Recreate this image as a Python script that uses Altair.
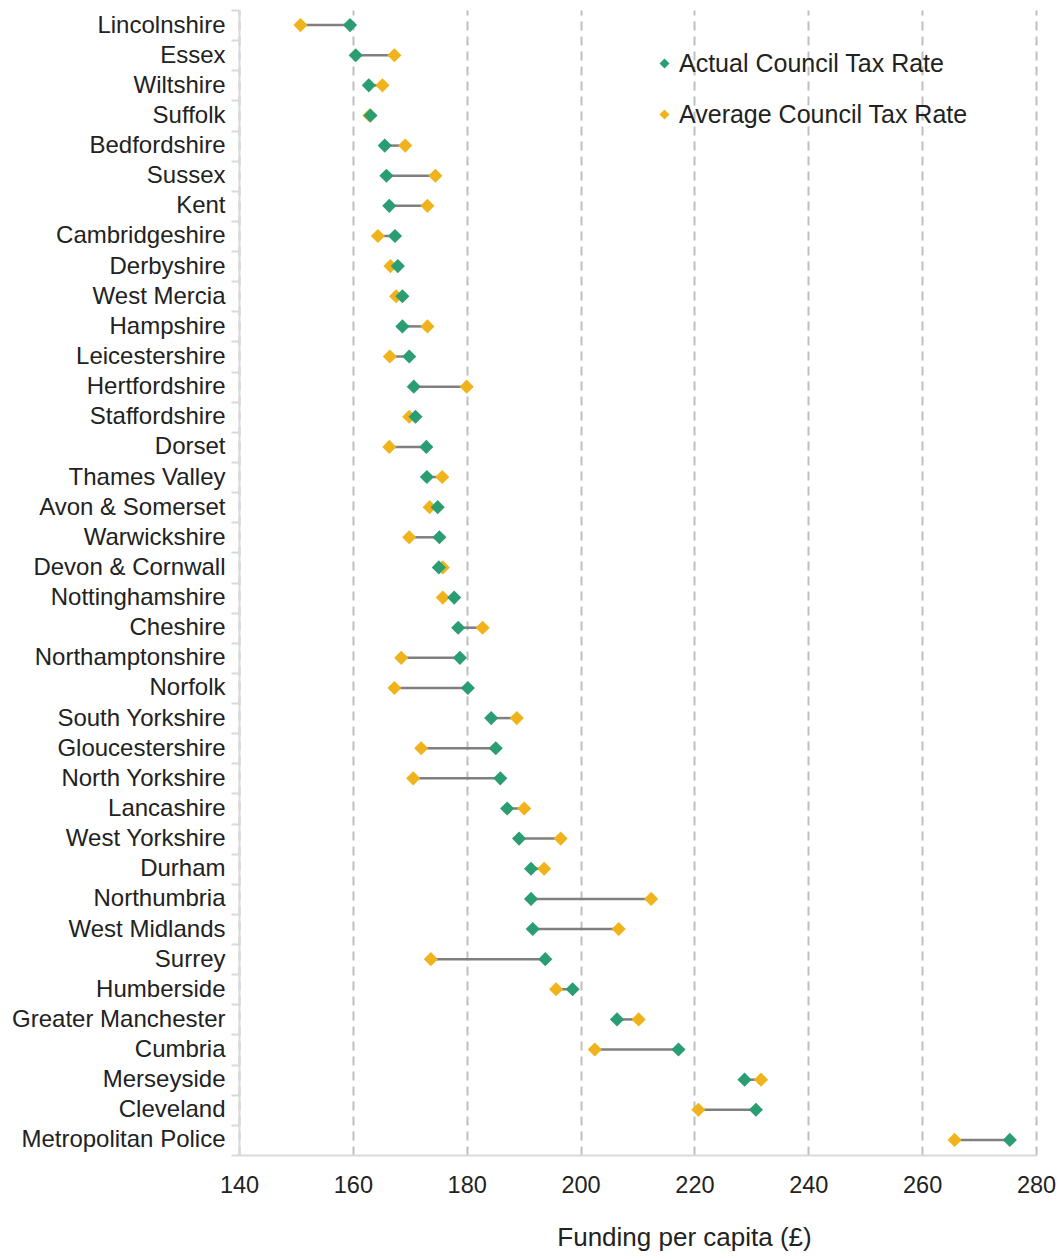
import altair as alt
import pandas as pd

forces = [
    "Lincolnshire", "Essex", "Wiltshire", "Suffolk", "Bedfordshire", "Sussex", "Kent",
    "Cambridgeshire", "Derbyshire", "West Mercia", "Hampshire", "Leicestershire",
    "Hertfordshire", "Staffordshire", "Dorset", "Thames Valley", "Avon & Somerset",
    "Warwickshire", "Devon & Cornwall", "Nottinghamshire", "Cheshire", "Northamptonshire",
    "Norfolk", "South Yorkshire", "Gloucestershire", "North Yorkshire", "Lancashire",
    "West Yorkshire", "Durham", "Northumbria", "West Midlands", "Surrey", "Humberside",
    "Greater Manchester", "Cumbria", "Merseyside", "Cleveland", "Metropolitan Police",
]
actual = [
    159.5, 160.5, 162.8, 163.1, 165.6, 165.9, 166.4, 167.4, 167.9, 168.7, 168.7, 169.9,
    170.7, 171.0, 172.9, 173.0, 174.9, 175.2, 175.1, 177.8, 178.5, 178.8, 180.2, 184.3,
    185.1, 185.9, 187.1, 189.2, 191.3, 191.3, 191.6, 193.8, 198.6, 206.4, 217.2, 228.8,
    230.8, 275.4,
]
average = [
    150.8, 167.3, 165.2, 162.9, 169.2, 174.5, 173.1, 164.4, 166.6, 167.6, 173.1, 166.5,
    180.0, 169.9, 166.4, 175.7, 173.5, 169.9, 175.8, 175.8, 182.8, 168.5, 167.3, 188.8,
    172.0, 170.6, 190.1, 196.5, 193.6, 212.4, 206.7, 173.7, 195.7, 210.2, 202.5, 231.7,
    220.7, 265.7,
]
series_names = ["Actual Council Tax Rate", "Average Council Tax Rate"]
series_colors = ["#2b9d73", "#f1b31c"]
x_ticks = [140, 160, 180, 200, 220, 240, 260, 280]

wide = pd.DataFrame({"force": forces, "actual": actual, "average": average})
long = pd.concat([
    pd.DataFrame({"force": forces, "value": average, "series": series_names[1]}),
    pd.DataFrame({"force": forces, "value": actual, "series": series_names[0]}),
], ignore_index=True)

FONT = "Liberation Sans"
TXT = "#222222"

y_enc = alt.Y(
    "force:N", sort=forces, title=None,
    scale=alt.Scale(paddingInner=0, paddingOuter=0),
    axis=alt.Axis(
        labelFont=FONT, labelFontSize=24, labelColor=TXT, labelPadding=6, labelLimit=400,
        domainColor="#d9d9d9", domainWidth=2, tickColor="#d9d9d9", tickWidth=2,
        tickSize=8, tickBand="extent", grid=False,
    ),
)
x_scale = alt.Scale(domain=[140, 280], nice=False, zero=False)
x_axis = alt.Axis(
    values=x_ticks, labelFont=FONT, labelFontSize=23.5, labelColor=TXT, labelPadding=18,
    labelFlush=False,
    domainColor="#d9d9d9", domainWidth=2, ticks=False,
    grid=True, gridColor="#bfbfbf", gridWidth=2, gridDash=[9, 6],
    title="Funding per capita (£)", titleFont=FONT, titleFontSize=26,
    titleFontWeight="normal", titleColor=TXT, titleX=445, titleY=90,
    titleBaseline="alphabetic", titleAlign="center",
)

rules = alt.Chart(wide).mark_rule(color="#7f7f7f", strokeWidth=2.5).encode(
    x=alt.X("actual:Q", scale=x_scale, axis=x_axis),
    x2="average:Q",
    y=y_enc,
)

points = alt.Chart(long).mark_point(shape="diamond", filled=True, size=200, opacity=1).encode(
    x=alt.X("value:Q", scale=x_scale, axis=x_axis),
    y=y_enc,
    color=alt.Color(
        "series:N",
        scale=alt.Scale(domain=series_names, range=series_colors),
        legend=alt.Legend(
            title=None, orient="none", legendX=413, legendY=41, padding=0,
            symbolType="diamond", symbolSize=100, symbolStrokeWidth=0, symbolOpacity=1,
            labelFont=FONT, labelFontSize=25, labelColor=TXT, labelOffset=2,
            rowPadding=25, labelLimit=400,
        ),
    ),
)

chart = alt.layer(rules, points).properties(
    width=797, height=1145,
    autosize=alt.AutoSizeParams(type="none"),
    padding={"left": 231, "top": 2, "right": 20, "bottom": 96},
).configure_view(stroke=None)

chart.save("out.html", embed_options={"renderer": "svg", "actions": False})
